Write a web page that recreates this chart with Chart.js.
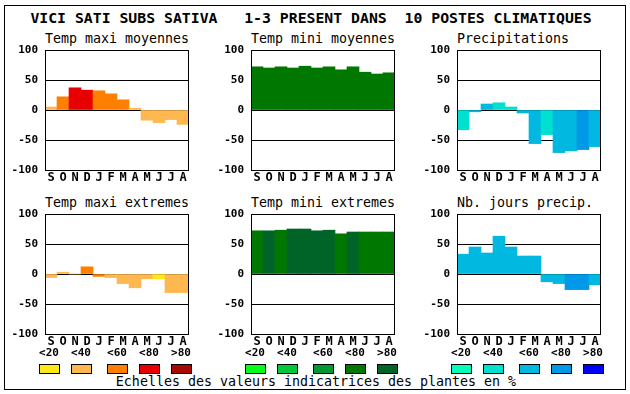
<!DOCTYPE html>
<html>
<head>
<meta charset="utf-8">
<script src="https://cdn.jsdelivr.net/npm/chart.js@4"></script>
<style>
  body { margin: 0; width: 630px; height: 394px; background: #fff; position: relative; overflow: hidden;
         font-family: "DejaVu Sans Mono", monospace; color: #000; }
  .frame { position: absolute; left: 4px; top: 5px; width: 620px; height: 383px; border: 1px solid #000; }
  .abs { position: absolute; white-space: pre; }
  #main-title { left: -4px; width: 630px; top: 9px; text-align: center; font-size: 14.8px; line-height: 18px; font-weight: bold; }
  .ptitle { font-size: 13.3px; line-height: 14px; }
  .lab { font-size: 11px; font-weight: bold; line-height: 12px; width: 30px; text-align: center; }
  .box { width: 19px; height: 8px; border: 1px solid #000; }
  #caption { left: 0; width: 632px; top: 374px; text-align: center; font-size: 13.3px; line-height: 16px; }
  canvas { position: absolute; }
</style>
</head>
<body>
<div class="frame"></div>
<div id="main-title" class="abs">VICI SATI SUBS SATIVA   1-3 PRESENT DANS  10 POSTES CLIMATIQUES</div>
<div id="caption" class="abs">Echelles des valeurs indicatrices des plantes en %</div>
<script>
// ── Data ───────────────────────────────────────────────
const MONTHS = ['S','O','N','D','J','F','M','A','M','J','J','A'];
const Y_TICKS = [-100, -50, 0, 50, 100];
const CLASS_LABELS = ['<20','<40','<60','<80','>80'];

const WARM  = ['#FFE818','#FFB850','#FF8000','#E80000','#A80800'];
const GREEN = ['#00FF18','#00C838','#009830','#007800','#006428'];
const BLUE  = ['#00FFB8','#00E0D0','#00B8E0','#0098E8','#0000FF'];

const TITLES = ['Temp maxi moyennes','Temp mini moyennes','Precipitations',
                'Temp maxi extremes','Temp mini extremes','Nb. jours precip.'];

const tmaxMoy   = [5, 22, 37, 33, 32, 27, 17, 3, -17, -21, -16, -24];
const tminMoy   = [72, 70, 72, 70, 73, 70, 72, 67, 72, 63, 60, 62];
const precip    = [-33, -3, 10, 12, 5, -5, -56, -41, -71, -68, -66, -61];
const tmaxExt   = [-6, 3, 0, 12, -4, -6, -16, -23, -8, -8, -31, -31];
const tminExt   = [72, 72, 73, 75, 75, 72, 73, 67, 70, 70, 70, 70];
const nbJours   = [33, 45, 35, 63, 45, 30, 30, -13, -16, -26, -26, -18];

// class index (0..4) of each bar
const tmaxMoyCls = [1, 2, 3, 3, 2, 2, 2, 1, 1, 1, 1, 1];
const tminMoyCls = [3, 3, 3, 3, 3, 3, 3, 3, 3, 3, 3, 3];
const precipCls  = [1, 2, 2, 1, 1, 2, 2, 1, 2, 2, 3, 2];
const tmaxExtCls = [1, 1, 1, 2, 2, 1, 1, 1, 1, 0, 1, 1];
const tminExtCls = [3, 4, 3, 4, 4, 4, 4, 3, 4, 3, 3, 3];
const nbJoursCls = [2, 2, 2, 2, 2, 2, 2, 2, 2, 3, 3, 2];

const PANELS = [
  { data: tmaxMoy, cls: tmaxMoyCls, pal: WARM },
  { data: tminMoy, cls: tminMoyCls, pal: GREEN },
  { data: precip,  cls: precipCls,  pal: BLUE },
  { data: tmaxExt, cls: tmaxExtCls, pal: WARM },
  { data: tminExt, cls: tminExtCls, pal: GREEN },
  { data: nbJours, cls: nbJoursCls, pal: BLUE },
];

// ── Layout ─────────────────────────────────────────────
const COL_X = [45, 251, 457];
const ROW_Y = [50, 214];
const PW = 144, PH = 120;
const AX_W = 45, AX_H = 16, PAD_T = 8, PAD_R = 5;

const Y_FONT = { family: '"DejaVu Sans Mono", monospace', size: 11, weight: 'bold' };
const X_FONT = { family: '"DejaVu Sans Mono", monospace', size: 12, weight: 'bold' };

const framePlugin = {
  id: 'frame',
  afterDraw(chart) {
    const a = chart.chartArea, ctx = chart.ctx;
    ctx.save();
    ctx.strokeStyle = '#000';
    ctx.lineWidth = 1;
    ctx.strokeRect(Math.round(a.left) + 0.5, Math.round(a.top) + 0.5,
                   Math.round(a.right - a.left) - 1, Math.round(a.bottom - a.top));
    ctx.restore();
  }
};

function addEl(cls, text, x, y) {
  const d = document.createElement('div');
  d.className = 'abs ' + cls;
  d.textContent = text;
  d.style.left = x + 'px';
  d.style.top = y + 'px';
  document.body.appendChild(d);
  return d;
}

PANELS.forEach((p, i) => {
  const px = COL_X[i % 3], py = ROW_Y[Math.floor(i / 3)];

  addEl('ptitle', TITLES[i], px, py - 18);

  const cv = document.createElement('canvas');
  const w = AX_W + PW + PAD_R, h = PAD_T + PH + AX_H;
  cv.width = w; cv.height = h;
  cv.style.left = (px - AX_W) + 'px';
  cv.style.top = (py - PAD_T) + 'px';
  cv.style.width = w + 'px'; cv.style.height = h + 'px';
  document.body.appendChild(cv);

  new Chart(cv.getContext('2d'), {
    type: 'bar',
    data: {
      labels: MONTHS,
      datasets: [{
        data: p.data,
        backgroundColor: p.cls.map(c => p.pal[c]),
        borderWidth: 0,
        barPercentage: 1,
        categoryPercentage: 1
      }]
    },
    options: {
      responsive: false,
      animation: false,
      events: [],
      layout: { padding: { top: PAD_T, right: PAD_R, left: 0, bottom: 0 } },
      plugins: { legend: { display: false }, tooltip: { enabled: false } },
      scales: {
        x: {
          grid: { display: false, drawTicks: false },
          border: { display: false },
          ticks: { color: '#000', font: X_FONT, padding: 1, autoSkip: false, maxRotation: 0 },
          afterFit: s => { s.height = AX_H; s.paddingLeft = 0; s.paddingRight = 0; }
        },
        y: {
          min: -100, max: 100,
          afterBuildTicks: s => { s.ticks = Y_TICKS.map(v => ({ value: v })); },
          grid: { color: '#000', lineWidth: 1, drawTicks: false },
          border: { display: false },
          ticks: { color: '#000', font: Y_FONT, padding: 7 },
          afterFit: s => { s.width = AX_W; s.paddingTop = 0; s.paddingBottom = 0; }
        }
      }
    },
    plugins: [framePlugin]
  });
});

// ── Legend ─────────────────────────────────────────────
const BOX_DX = [0, 32, 68, 100, 132];
[WARM, GREEN, BLUE].forEach((pal, g) => {
  const gx = COL_X[g] - 6;
  pal.forEach((col, k) => {
    const x = gx + BOX_DX[k];
    addEl('lab', CLASS_LABELS[k], x - 5, 347);
    const b = addEl('box', '', x, 364);
    b.style.background = col;
  });
});
</script>
</body>
</html>
